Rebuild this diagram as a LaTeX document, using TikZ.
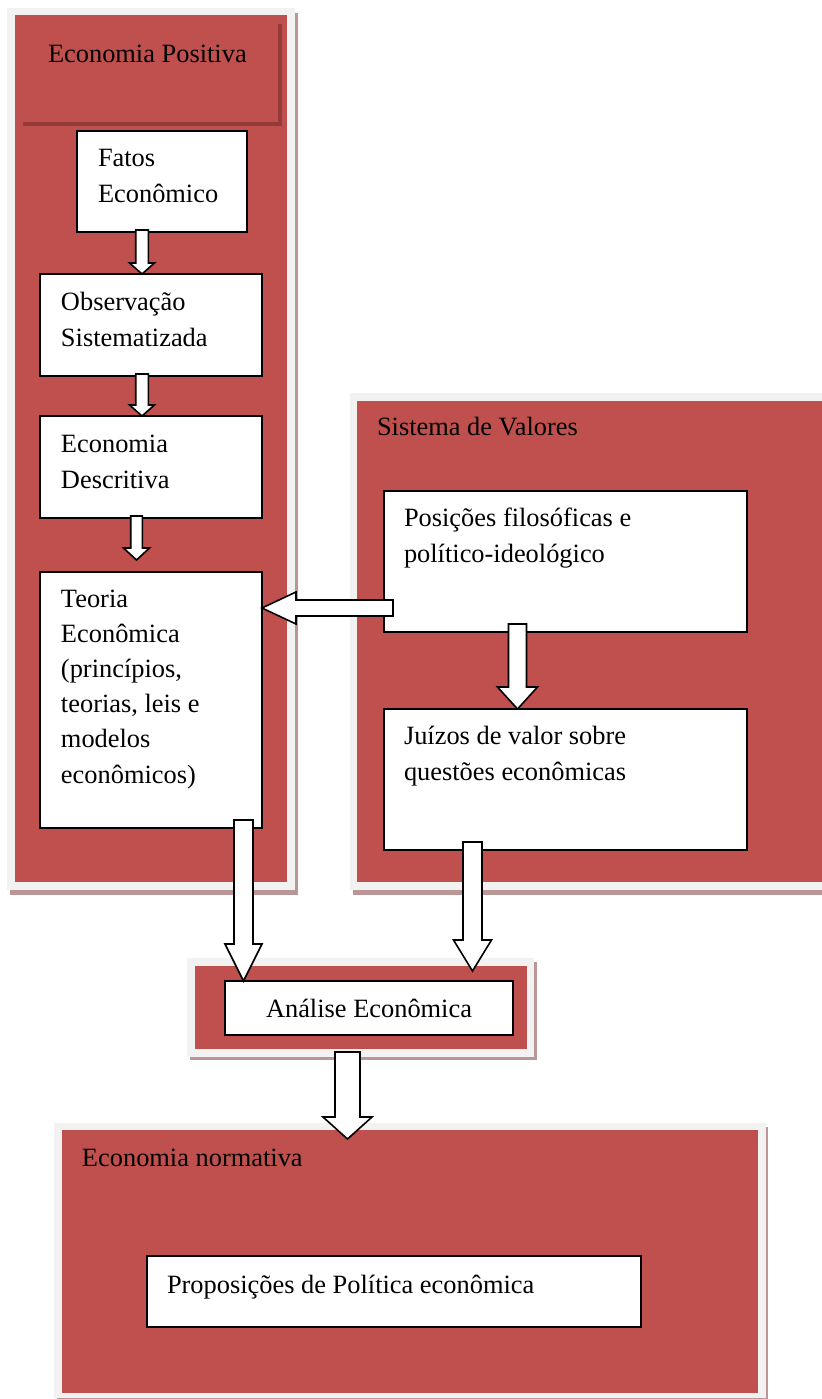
\documentclass[tikz,border=0pt]{standalone}
\usepackage{fontspec}
\setmainfont{Liberation Serif}
\usetikzlibrary{calc}
\definecolor{panelred}{HTML}{C0504D}
\definecolor{panelgray}{HTML}{F2F2F2}
\definecolor{panelshadow}{HTML}{BA9796}
\definecolor{hdrshadow}{HTML}{953B39}
\tikzset{
  boxnode/.style={draw=black, line width=0.8pt, fill=white, inner sep=0pt, outer sep=0pt,
    anchor=north west},
  txt/.style={inner sep=0pt, outer sep=0pt, anchor=base west, align=left,
    font=\fontsize{13.2pt}{17.6pt}\selectfont},
  barrow/.style={draw=black, line width=0.8pt, fill=white, line join=miter},
}
\newcommand\blockdown[5]{%
  \draw[barrow] ($(#1)+(-#3,0)$) -- ($(#2)+(-#3,-#5)$) -- ($(#2)+(-#4,-#5)$) -- (#2)
    -- ($(#2)+(#4,-#5)$) -- ($(#2)+(#3,-#5)$) -- ($(#1)+(#3,0)$) -- cycle;}
\newcommand\blockleft[5]{%
  \draw[barrow] ($(#1)+(0,-#3)$) -- ($(#2)+(#5,-#3)$) -- ($(#2)+(#5,-#4)$) -- (#2)
    -- ($(#2)+(#5,#4)$) -- ($(#2)+(#5,#3)$) -- ($(#1)+(0,#3)$) -- cycle;}
\begin{document}
\begin{tikzpicture}[x=0.5pt,y=-0.5pt]
\useasboundingbox (0,0) rectangle (821,1399);
\fill[white] (0,0) rectangle (821,1399);

% ---- panels ----
% Economia Positiva
\fill[panelshadow] (10,13) rectangle (298,895);
\fill[panelgray] (7,8) rectangle (295,890);
\fill[panelred] (15,15) rectangle (287,882);
\fill[hdrshadow] (23,24) rectangle (282,126);
\fill[panelred] (15,15) rectangle (278,122);
% Sistema de Valores
\fill[panelshadow] (353,397) rectangle (825,895);
\fill[panelgray] (350,393) rectangle (825,890);
\fill[panelred] (357,401) rectangle (825,882);
% Analise
\fill[panelshadow] (190,962) rectangle (537,1060);
\fill[panelgray] (187,958) rectangle (534,1057);
\fill[panelred] (195,966) rectangle (527,1049);
% Economia normativa
\fill[panelshadow] (57,1127) rectangle (768,1402);
\fill[panelgray] (54,1123) rectangle (766,1398);
\fill[panelred] (62,1130) rectangle (758,1393);

% ---- panel titles ----
\node[txt] (tPos) at (48,62) {Economia Positiva};
\node[txt] (tSis) at (377,435) {Sistema de Valores};
\node[txt] (tNor) at (82,1166) {Economia normativa};

% ---- boxes ----
\node[boxnode, minimum width=85pt, minimum height=50.5pt] (fatos) at (77,131) {};
\node[boxnode, minimum width=111pt, minimum height=51pt] (obs) at (40,274) {};
\node[boxnode, minimum width=111pt, minimum height=51pt] (desc) at (40,416) {};
\node[boxnode, minimum width=111pt, minimum height=128pt] (teoria) at (40,572) {};
\node[boxnode, minimum width=181.5pt, minimum height=70.5pt] (pos) at (384,491) {};
\node[boxnode, minimum width=181.5pt, minimum height=70.5pt] (juizos) at (384,709) {};
\node[boxnode, minimum width=144pt, minimum height=27pt, font=\fontsize{13.2pt}{17.6pt}\selectfont] (analise) at (225,981) {Análise Econômica};
\node[boxnode, minimum width=247pt, minimum height=35.5pt] (prop) at (147,1256) {};

% ---- box texts (anchored at the baseline of the last line) ----
\node[txt] (fatosT) at (98,202) {Fatos\\Econômico};
\node[txt] (obsT) at (61,346) {Observação\\Sistematizada};
\node[txt] (descT) at (61,488) {Economia\\Descritiva};
\node[txt] (teoriaT) at (61,783) {Teoria\\Econômica\\(princípios,\\teorias, leis e\\modelos\\econômicos)};
\node[txt] (posT) at (404,562) {Posições filosóficas e\\político-ideológico};
\node[txt] (juizosT) at (404,780) {Juízos de valor sobre\\questões econômicas};
\node[txt] (propT) at (167,1293) {Proposições de Política econômica};

% ---- arrows ----
\coordinate (a1s) at ([yshift=1pt]142,0 |- fatos.south);
\coordinate (a1e) at (142,0 |- obs.north);
\blockdown{a1s}{a1e}{6.3}{12.4}{11}

\coordinate (a2s) at ([yshift=1pt]142,0 |- obs.south);
\coordinate (a2e) at (142,0 |- desc.north);
\blockdown{a2s}{a2e}{6.3}{12.4}{11}

\coordinate (a3s) at ([yshift=1pt]136.5,0 |- desc.south);
\coordinate (a3e) at ([yshift=6pt]136.5,0 |- teoria.north);
\blockdown{a3s}{a3e}{5.8}{13}{12}

\coordinate (a4s) at ([xshift=4.5pt]pos.west |- 0,608);
\coordinate (a4e) at (teoria.east |- 0,608);
\blockleft{a4s}{a4e}{8}{16}{34}

\coordinate (a5s) at ([yshift=4pt]517.5,0 |- pos.south);
\coordinate (a5e) at (517.5,0 |- juizos.north);
\blockdown{a5s}{a5e}{9}{20}{22}

\coordinate (a6s) at ([yshift=4pt]243.5,0 |- teoria.south);
\coordinate (a6e) at (243.5,0 |- analise.north);
\blockdown{a6s}{a6e}{9.5}{18.5}{37}

\coordinate (a7s) at ([yshift=4pt]472.5,0 |- juizos.south);
\coordinate (a7e) at ([yshift=5pt]472.5,0 |- analise.north);
\blockdown{a7s}{a7e}{9.5}{19}{31}

\coordinate (a8s) at ([yshift=-8.5pt]347.5,0 |- analise.south);
\coordinate (a8e) at ([yshift=58.5pt]347.5,0 |- prop.north);
\blockdown{a8s}{a8e}{12.5}{24.5}{22}
\end{tikzpicture}
\end{document}
